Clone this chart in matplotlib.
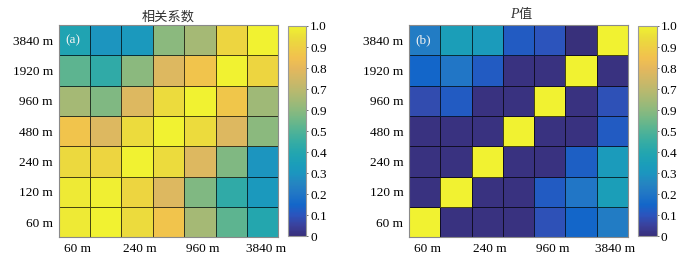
import numpy as np
import matplotlib
matplotlib.use("Agg")
import matplotlib.pyplot as plt
from matplotlib.colors import LinearSegmentedColormap
from matplotlib.transforms import ScaledTranslation

# ---------------- data ----------------
scales = ["60 m", "120 m", "240 m", "480 m", "960 m", "1920 m", "3840 m"]
xtick_idx = [0, 2, 4, 6]
cbar_ticks = [0, 0.1, 0.2, 0.3, 0.4, 0.5, 0.6, 0.7, 0.8, 0.9, 1.0]
cbar_labels = ["0", "0.1", "0.2", "0.3", "0.4", "0.5", "0.9", "0.7", "0.8", "0.9", "1.0"]

# rows listed from bottom (60 m) to top (3840 m), columns 60 m .. 3840 m
corr_60 = [0.98, 1.00, 0.94, 0.86, 0.65, 0.52, 0.40]
corr_120 = [0.98, 0.99, 0.92, 0.78, 0.58, 0.43, 0.32]
corr_240 = [0.93, 0.92, 1.00, 0.94, 0.78, 0.58, 0.30]
corr_480 = [0.86, 0.78, 0.94, 1.00, 0.94, 0.78, 0.60]
corr_960 = [0.65, 0.58, 0.78, 0.94, 1.00, 0.87, 0.64]
corr_1920 = [0.52, 0.43, 0.60, 0.78, 0.86, 1.00, 0.92]
corr_3840 = [0.38, 0.30, 0.32, 0.60, 0.65, 0.92, 1.00]

p_60 = [1.00, 0.01, 0.01, 0.01, 0.09, 0.15, 0.22]
p_120 = [0.01, 1.00, 0.01, 0.01, 0.12, 0.20, 0.35]
p_240 = [0.01, 0.01, 1.00, 0.01, 0.01, 0.13, 0.33]
p_480 = [0.01, 0.01, 0.01, 1.00, 0.01, 0.01, 0.12]
p_960 = [0.08, 0.12, 0.01, 0.01, 1.00, 0.01, 0.09]
p_1920 = [0.15, 0.20, 0.12, 0.01, 0.01, 1.00, 0.01]
p_3840 = [0.22, 0.35, 0.33, 0.12, 0.10, 0.00, 1.00]

corr = np.array([corr_60, corr_120, corr_240, corr_480, corr_960, corr_1920, corr_3840])
pval = np.array([p_60, p_120, p_240, p_480, p_960, p_1920, p_3840])

# ---------------- colormap (parula-like, softened) ----------------
parula_anchors = [
    (0.2081, 0.1663, 0.5292), (0.2081, 0.2386, 0.6771), (0.1253, 0.3242, 0.8303),
    (0.0060, 0.4086, 0.8828), (0.0629, 0.4737, 0.8554), (0.0749, 0.5375, 0.8263),
    (0.0265, 0.6137, 0.8135), (0.0228, 0.6535, 0.7768), (0.0590, 0.6838, 0.7254),
    (0.1453, 0.7098, 0.6646), (0.2586, 0.7317, 0.5954), (0.3953, 0.7459, 0.5244),
    (0.5300, 0.7491, 0.4661), (0.6473, 0.7456, 0.4188), (0.7525, 0.7384, 0.3768),
    (0.8507, 0.7299, 0.3360), (0.9450, 0.7261, 0.2886), (0.9990, 0.7653, 0.2164),
    (0.9789, 0.8271, 0.1633), (0.9589, 0.8949, 0.1132), (0.9763, 0.9831, 0.0538),
]
arr = np.array(parula_anchors)
lum = (0.3 * arr[:, 0] + 0.59 * arr[:, 1] + 0.11 * arr[:, 2])[:, None]
soft = np.clip((lum + 0.85 * (arr - lum)) * 0.96 + 0.02, 0, 1)
cmap = LinearSegmentedColormap.from_list("parula_soft", soft, N=256)

# ---------------- figure ----------------
plt.rcParams["font.family"] = ["Liberation Serif", "Noto Sans CJK SC"]
fs = 9.5
W, H = 686, 264
fig = plt.figure(figsize=(W / 100, H / 100), dpi=100)

def fx(px):
    return px / W

def fy(px):
    return 1 - px / H

panels = [
    dict(data=corr, ax=(58.5, 278.3), cax=(287.5, 306.0), tag="(a)"),
    dict(data=pval, ax=(409.0, 628.0), cax=(638.0, 656.5), tag="(b)"),
]
top, bot = 25.0, 237.3

axes = []
for k, p in enumerate(panels):
    ax = fig.add_axes([fx(p["ax"][0]), fy(bot), fx(p["ax"][1] - p["ax"][0]), (bot - top) / H])
    mesh = ax.pcolormesh(p["data"], cmap=cmap, vmin=0, vmax=1,
                         edgecolors=(0, 0, 0, 0.7), linewidth=0.7)
    ax.set_xlim(0, 7)
    ax.set_ylim(0, 7)
    ax.set_xticks(np.array(xtick_idx) + 0.5)
    ax.set_xticklabels([scales[i] for i in xtick_idx], fontsize=fs)
    ax.set_yticks(np.arange(7) + 0.5)
    ax.set_yticklabels(scales, fontsize=fs)
    ax.tick_params(length=0, pad=4)
    for lab in ax.get_xticklabels():
        lab.set_transform(lab.get_transform() + ScaledTranslation(3 / 100, 0, fig.dpi_scale_trans))
    for s in ax.spines.values():
        s.set_color("#8a8a8a")
        s.set_linewidth(0.8)
    ax.text(0.03, 0.955, p["tag"], transform=ax.transAxes, color="#f2f2f2",
            fontsize=fs, ha="left", va="top")

    cax = fig.add_axes([fx(p["cax"][0]), fy(bot - 1), fx(p["cax"][1] - p["cax"][0]), (bot - 1 - top - 1) / H])
    cb = fig.colorbar(mesh, cax=cax, ticks=cbar_ticks)
    cb.set_ticklabels(cbar_labels)
    cb.outline.set_edgecolor("#9a9a9a")
    cb.outline.set_linewidth(0.8)
    cax.tick_params(length=1.5, width=0.6, pad=1.5, labelsize=fs, color="#555555")
    axes.append(ax)

axes[0].set_title("相关系数", fontsize=fs, pad=3, family=["Noto Sans CJK SC"], color="#333333")
axes[1].text(0.5, 1.0, "P", transform=axes[1].transAxes + ScaledTranslation(0, 3 / 72, fig.dpi_scale_trans),
             ha="right", va="bottom", fontsize=fs + 0.5, style="italic",
             family=["Liberation Serif"], color="#333333")
axes[1].annotate("值", xy=(0.5, 1.0), xycoords="axes fraction", ha="left", va="bottom",
                 xytext=(0, 3), textcoords="offset points",
                 fontsize=fs, family=["Noto Sans CJK SC"], color="#333333")

fig.savefig("out.png", dpi=100)
